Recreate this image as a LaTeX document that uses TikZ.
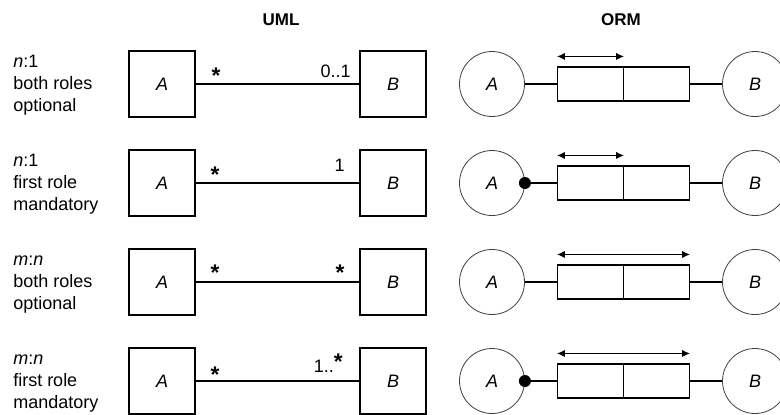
\documentclass[tikz,border=0pt]{standalone}
\usepackage{fontspec}
\setmainfont{Liberation Sans}
\usepackage{tikz}
\usetikzlibrary{arrows.meta,positioning}
\tikzset{
  % ---- UML ------------------------------------------------------------
  cls/.style={draw, line width=0.9pt, minimum size=49.5pt, inner sep=0pt,
    font=\fontsize{13.5}{16.5}\selectfont\itshape},
  assoc/.style={draw, line width=0.8pt},
  mult/.style={font=\fontsize{13.5}{16.5}\selectfont, inner sep=0pt},
  many/.style={font=\fontsize{17}{17}\selectfont\bfseries, inner sep=0pt, anchor=base},
  % ---- ORM ------------------------------------------------------------
  ent/.style={circle, draw=black!75, line width=0.6pt, minimum size=48.75pt,
    inner sep=0pt, font=\fontsize{13.5}{16.5}\selectfont\itshape},
  rolebox/.style={draw, line width=0.8pt, minimum width=49.5pt, minimum height=25.5pt,
    inner sep=0pt},
  uc/.style={{Latex[length=6pt,width=5.5pt]}-{Latex[length=6pt,width=5.5pt]},
    line width=0.9pt},
  mand/.style={circle, fill=black, inner sep=0pt, minimum size=9pt},
  % ---- labels ---------------------------------------------------------
  rowlbl/.style={font=\fontsize{13.5}{16.5}\selectfont, align=left, inner sep=0pt},
  colhead/.style={font=\fontsize{12.75}{15}\selectfont\bfseries, inner sep=0pt},
}

\begin{document}
\begin{tikzpicture}[x=0.75pt,y=-0.75pt]

\useasboundingbox (0,0) rectangle (780,414);
\clip (0,0) rectangle (780,414);

\def\XA{162}\def\XB{393}\def\XOA{492}\def\XOB{755}
\def\XRL{590.5}\def\XRR{656.5}
\def\YI{84}\def\YII{183}\def\YIII{282}\def\YIV{381}

% ---- column headings ------------------------------------------------------
\node[colhead, anchor=base] (huml) at (281,25) {UML};
\node[colhead, anchor=base] (horm) at (621,25) {ORM};

% ---- row 1: n:1, both optional --------------------------------------------
\node[rowlbl, anchor=base west] (l1) at (13,\YI+27) {\textit{n}:1\\both roles\\optional};
\node[cls] (ua1) at (\XA,\YI) {A};
\node[cls] (ub1) at (\XB,\YI) {B};
\draw[assoc] (ua1) -- (ub1);
\node[many] (ma1) at (216,\YI-0.5) {*};
\node[mult, anchor=base east] (mb1) at (351,\YI-7) {0..1};
\node[ent] (oa1) at (\XOA,\YI) {A};
\node[ent] (ob1) at (\XOB,\YI) {B};
\node[rolebox] (rl1) at (\XRL,\YI) {};
\node[rolebox] (rr1) at (\XRR,\YI) {};
\draw[assoc] (oa1) -- (rl1);
\draw[assoc] (rr1) -- (ob1);
\draw[uc] ([yshift=7.5pt]rl1.north west) -- ([yshift=7.5pt]rl1.north east);

% ---- row 2: n:1, first mandatory ------------------------------------------
\node[rowlbl, anchor=base west] (l2) at (13,\YII+27) {\textit{n}:1\\first role\\mandatory};
\node[cls] (ua2) at (\XA,\YII) {A};
\node[cls] (ub2) at (\XB,\YII) {B};
\draw[assoc] (ua2) -- (ub2);
\node[many] (ma2) at (215,\YII-1) {*};
\node[mult, anchor=base east] (mb2) at (345,\YII-12) {1};
\node[ent] (oa2) at (\XOA,\YII) {A};
\node[ent] (ob2) at (\XOB,\YII) {B};
\node[rolebox] (rl2) at (\XRL,\YII) {};
\node[rolebox] (rr2) at (\XRR,\YII) {};
\draw[assoc] (oa2) -- (rl2);
\draw[assoc] (rr2) -- (ob2);
\node[mand] (d2) at (oa2.east) {};
\draw[uc] ([yshift=7.5pt]rl2.north west) -- ([yshift=7.5pt]rl2.north east);

% ---- row 3: m:n, both optional --------------------------------------------
\node[rowlbl, anchor=base west] (l3) at (13,\YIII+27) {\textit{m}:\textit{n}\\both roles\\optional};
\node[cls] (ua3) at (\XA,\YIII) {A};
\node[cls] (ub3) at (\XB,\YIII) {B};
\draw[assoc] (ua3) -- (ub3);
\node[many] (ma3) at (215,\YIII-2) {*};
\node[many] (mb3) at (340,\YIII-2) {*};
\node[ent] (oa3) at (\XOA,\YIII) {A};
\node[ent] (ob3) at (\XOB,\YIII) {B};
\node[rolebox] (rl3) at (\XRL,\YIII) {};
\node[rolebox] (rr3) at (\XRR,\YIII) {};
\draw[assoc] (oa3) -- (rl3);
\draw[assoc] (rr3) -- (ob3);
\draw[uc] ([yshift=7.5pt]rl3.north west) -- ([yshift=7.5pt]rr3.north east);

% ---- row 4: m:n, first mandatory ------------------------------------------
\node[rowlbl, anchor=base west] (l4) at (13,\YIV+27) {\textit{m}:\textit{n}\\first role\\mandatory};
\node[cls] (ua4) at (\XA,\YIV) {A};
\node[cls] (ub4) at (\XB,\YIV) {B};
\draw[assoc] (ua4) -- (ub4);
\node[many] (ma4) at (215,\YIV+1) {*};
\node[mult, anchor=base east] (mb4) at (343,\YIV-9)
  {1..\raisebox{2pt}{\fontsize{17}{17}\selectfont\bfseries *}};
\node[ent] (oa4) at (\XOA,\YIV) {A};
\node[ent] (ob4) at (\XOB,\YIV) {B};
\node[rolebox] (rl4) at (\XRL,\YIV) {};
\node[rolebox] (rr4) at (\XRR,\YIV) {};
\draw[assoc] (oa4) -- (rl4);
\draw[assoc] (rr4) -- (ob4);
\node[mand] (d4) at (oa4.east) {};
\draw[uc] ([yshift=7.5pt]rl4.north west) -- ([yshift=7.5pt]rr4.north east);

\end{tikzpicture}
\end{document}
